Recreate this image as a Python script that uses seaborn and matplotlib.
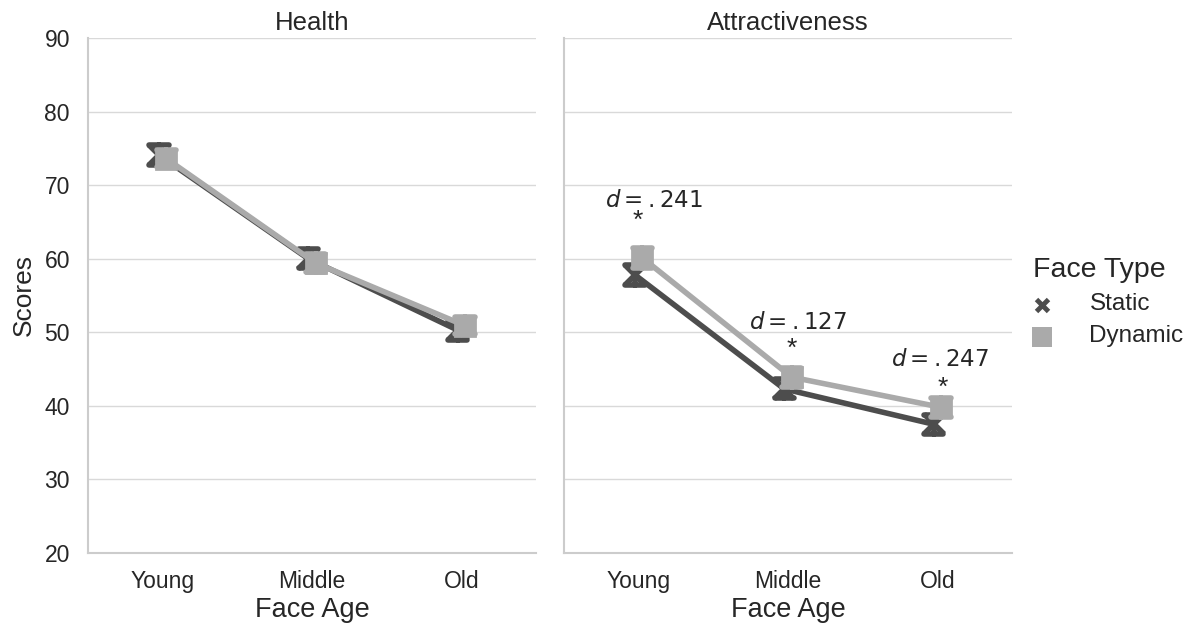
import numpy as np
import pandas as pd
import seaborn as sns
import matplotlib.pyplot as plt

# Category levels
face_ages = ["Young", "Middle", "Old"]
measures = ["Health", "Attractiveness"]
face_types = ["Static", "Dynamic"]

# Mean scores per cell
health_static = [74.1, 60.0, 50.3]
health_dynamic = [73.6, 59.4, 50.9]
attr_static = [57.8, 42.3, 37.5]
attr_dynamic = [60.1, 43.9, 39.8]

# Half-width of the error interval per cell
health_static_err = [1.3, 1.3, 1.3]
health_dynamic_err = [1.2, 1.2, 1.2]
attr_static_err = [1.4, 1.3, 1.3]
attr_dynamic_err = [1.3, 1.3, 1.3]

# Effect sizes for the significant static/dynamic differences (attractiveness)
effect_sizes = [".241", ".127", ".247"]

palette = {"Static": "#4d4d4d", "Dynamic": "#aaaaaa"}

rows = []
cells = [
    ("Health", "Static", health_static, health_static_err),
    ("Health", "Dynamic", health_dynamic, health_dynamic_err),
    ("Attractiveness", "Static", attr_static, attr_static_err),
    ("Attractiveness", "Dynamic", attr_dynamic, attr_dynamic_err),
]
for measure, ftype, means, errs in cells:
    for age, m, e in zip(face_ages, means, errs):
        for v in (m - e, m, m + e):
            rows.append({"Measure": measure, "Face Type": ftype,
                         "Face Age": age, "Scores": v})
df = pd.DataFrame(rows)

sns.set_theme(style="whitegrid")
plt.rcParams["font.family"] = ["Liberation Sans", "DejaVu Sans"]
plt.rcParams["mathtext.fontset"] = "dejavusans"
plt.rcParams["axes.edgecolor"] = "#cccccc"
plt.rcParams["grid.color"] = "#d9d9d9"

g = sns.catplot(
    data=df, kind="point", x="Face Age", y="Scores", col="Measure",
    hue="Face Type", order=face_ages, col_order=measures,
    hue_order=face_types, palette=palette, markers=["x", "s"],
    linestyles=["-", "-"], dodge=0.05, capsize=0.13,
    errorbar=lambda v: (v.min(), v.max()),
    linewidth=4, markersize=14, markeredgewidth=4,
    height=6, aspect=1,
)

fig = g.figure
fig.set_size_inches(11.92, 6.23)
fig.subplots_adjust(left=0.0738, right=0.849, top=0.939, bottom=0.1124,
                    wspace=0.0626)

g.set_titles("{col_name}", size=18.5)
g.set(ylim=(20, 90), yticks=np.arange(20, 91, 10))
for ax in g.axes.flat:
    ax.tick_params(axis="both", labelsize=16.5, colors="#262626", length=0)
    ax.tick_params(axis="x", pad=12)
    ax.tick_params(axis="y", pad=13)
    ax.set_xlabel("Face Age", fontsize=19.5, labelpad=3)
    ax.grid(axis="x", visible=False)
    for sp in ("left", "bottom"):
        ax.spines[sp].set_linewidth(1.5)
        ax.spines[sp].set_color("#cccccc")
    # thinner outline on the square markers
    for line in ax.lines:
        if line.get_marker() == "s":
            line.set_markeredgewidth(2)
g.axes.flat[0].set_ylabel("Scores", fontsize=19, labelpad=6)

# Significance markers and effect sizes on the attractiveness panel
star_dx = [-0.007, 0.027, 0.033]
star_dy = [5.0, 3.8, 2.7]
text_dx = [0.10, 0.067, 0.02]
text_dy = [7.8, 7.4, 6.5]
ax_attr = g.axes.flat[1]
for i, (d, m) in enumerate(zip(effect_sizes, attr_dynamic)):
    ax_attr.text(i + star_dx[i], m + star_dy[i], "*", ha="center",
                 va="center", fontsize=19, color="#262626")
    ax_attr.text(i + text_dx[i], m + text_dy[i], f"$d = {d}$", ha="center",
                 va="center", fontsize=16.5, color="#262626")

# Legend on the right
sns.move_legend(g, "center left", bbox_to_anchor=(0.855, 0.515),
                title="Face Type", frameon=False, handlelength=1.2,
                handletextpad=2.5, labelspacing=0.65)
leg = g._legend
leg._legend_box.align = "left"
leg.get_title().set_fontsize(20.5)
for t in leg.get_texts():
    t.set_fontsize(17.5)
for h in leg.legend_handles:
    h.set_linestyle("")
    if h.get_marker() == "x":
        h.set_markersize(9)
        h.set_markeredgewidth(3.5)
    else:
        h.set_markersize(14)
        h.set_markeredgewidth(0)

fig.savefig("out.png", dpi=100)
